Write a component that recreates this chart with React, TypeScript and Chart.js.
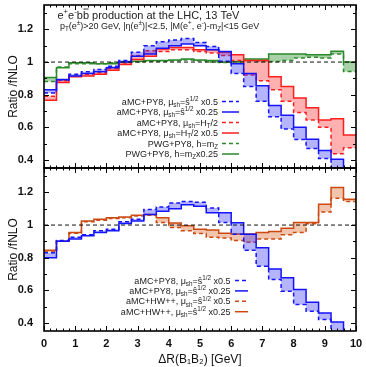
import React, { useEffect, useRef } from "react";
import { Chart, registerables } from "chart.js";
Chart.register(...registerables);

const binEdges = [0, 0.4, 0.8, 1.2, 1.6, 2.0, 2.4, 2.8, 3.2, 3.6, 4.0, 4.4, 4.8, 5.2, 5.6, 6.0, 6.4, 6.8, 7.2, 7.6, 8.0, 8.4, 8.8, 9.2, 9.6, 10.0];
const xTickValues = [0, 1, 2, 3, 4, 5, 6, 7, 8, 9, 10];
const xTickLabels = ["0", "1", "2", "3", "4", "5", "6", "7", "8", "9", "10"];
const yTickValues = [0.4, 0.6, 0.8, 1.0, 1.2];
const yTickLabels = ["0.4", "0.6", "0.8", "1", "1.2"];
const yMin = 0.35;
const yMax = 1.35;
const refValue = 1;

// Top panel
const topBlueDashed = [0.81, 0.89, 0.925, 0.94, 0.955, 0.975, 1.01, 1.06, 1.1, 1.125, 1.135, 1.145, 1.12, 1.095, 1.005, 0.93, 0.85, 0.76, 0.664, 0.59, 0.525, 0.47, 0.408, 0.33, 0.25];
const topBlueSolid = [0.83, 0.893, 0.915, 0.93, 0.94, 0.965, 1.0, 1.035, 1.05, 1.085, 1.1, 1.11, 1.1, 1.075, 1.065, 0.99, 0.93, 0.855, 0.733, 0.674, 0.6, 0.527, 0.457, 0.403, 0.3];
const topRedDashed = [0.79, 0.885, 0.915, 0.925, 0.935, 0.96, 0.995, 1.04, 1.07, 1.065, 1.075, 1.075, 1.065, 1.055, 1.04, 1.01, 0.92, 0.885, 0.83, 0.76, 0.69, 0.645, 0.6, 0.437, 0.475];
const topRedSolid = [0.765, 0.875, 0.91, 0.915, 0.925, 0.95, 0.985, 1.015, 1.035, 1.08, 1.09, 1.09, 1.075, 1.075, 1.06, 1.045, 1.01, 1.01, 0.91, 0.85, 0.78, 0.72, 0.645, 0.652, 0.553];
const topGreenDashed = [0.88, 0.97, 0.99, 0.99, 0.99, 0.995, 0.995, 1.0, 1.005, 1.005, 1.008, 1.012, 1.008, 1.0, 0.998, 1.0, 1.01, 1.004, 1.004, 1.01, 1.025, 1.03, 1.025, 1.05, 0.942];
const topGreenSolid = [0.905, 0.965, 0.995, 0.995, 0.99, 0.99, 1.0, 1.005, 1.01, 1.01, 1.012, 1.018, 1.012, 1.01, 1.0, 1.004, 1.019, 1.018, 1.05, 1.05, 1.05, 1.045, 1.045, 1.066, 1.0];

// Bottom panel
const botBlueDashed = [0.83, 0.905, 0.925, 0.94, 0.965, 0.975, 1.02, 1.035, 1.095, 1.11, 1.135, 1.145, 1.14, 1.105, 1.015, 0.943, 0.845, 0.748, 0.666, 0.594, 0.512, 0.471, 0.42, 0.34, 0.25];
const botBlueSolid = [0.8, 0.9, 0.915, 0.935, 0.955, 0.965, 1.01, 1.025, 1.065, 1.085, 1.1, 1.125, 1.115, 1.075, 1.075, 1.014, 0.943, 0.861, 0.731, 0.676, 0.604, 0.526, 0.46, 0.405, 0.3];
const botOrangeDashed = [0.835, 0.9, 0.95, 1.02, 1.03, 1.04, 1.045, 1.055, 1.06, 1.015, 0.985, 0.965, 0.948, 0.925, 0.92, 0.905, 0.895, 0.915, 0.915, 0.94, 0.955, 1.008, 1.08, 1.165, 1.145];
const botOrangeSolid = [0.845, 0.9, 0.955, 1.025, 1.035, 1.045, 1.05, 1.06, 1.065, 1.045, 1.012, 0.995, 0.975, 0.97, 0.95, 0.945, 0.945, 0.955, 0.96, 0.98, 1.015, 1.015, 1.127, 1.23, 1.158];

const titleLine1 = "e^{+}e^{-}b~{b} production at the LHC, 13 TeV";
const titleLine2 = "p_{T}(e^{±})>20 GeV, |η(e^{±})|<2.5, |M(e^{+}, e^{-})-m_{Z}|<15 GeV";
const topLegendLabels = [
  "aMC+PY8, μ_{sh}=ŝ^{1/2} x0.5",
  "aMC+PY8, μ_{sh}=ŝ^{1/2} x0.25",
  "aMC+PY8, μ_{sh}=H_{T}/2",
  "aMC+PY8, μ_{sh}=H_{T}/2 x0.5",
  "PWG+PY8, h=m_{Z}",
  "PWG+PY8, h=m_{Z}x0.25",
];
const bottomLegendLabels = [
  "aMC+PY8, μ_{sh}=ŝ^{1/2} x0.5",
  "aMC+PY8, μ_{sh}=ŝ^{1/2} x0.25",
  "aMC+HW++, μ_{sh}=ŝ^{1/2} x0.5",
  "aMC+HW++, μ_{sh}=ŝ^{1/2} x0.25",
];
const yAxisTitle = "Ratio /fNLO";
const xAxisTitle = "ΔR(B₁B₂) [GeV]";

const FONT = "'Liberation Sans', Arial, Helvetica, sans-serif";
const BLUE = "#1414ff";
const RED = "#ff1e1e";
const GREEN = "#2a8a2a";
const ORANGE = "#cc4a12";
const BLUE_F = "rgba(40,40,255,0.35)";
const RED_F = "rgba(255,40,40,0.36)";
const GREEN_F = "rgba(40,140,40,0.4)";
const ORANGE_F = "rgba(215,100,40,0.38)";
const DASH = [4, 3];

type Seg = { t: string; m: string };
function parseRich(s: string): Seg[] {
  const out: Seg[] = [];
  let buf = "";
  let i = 0;
  while (i < s.length) {
    const c = s[i];
    if ((c === "_" || c === "^" || c === "~") && s[i + 1] === "{") {
      if (buf) { out.push({ t: buf, m: "n" }); buf = ""; }
      const end = s.indexOf("}", i + 2);
      out.push({ t: s.slice(i + 2, end), m: c === "_" ? "sub" : c === "^" ? "sup" : "bar" });
      i = end + 1;
    } else { buf += c; i++; }
  }
  if (buf) out.push({ t: buf, m: "n" });
  return out;
}
function richWidth(ctx: CanvasRenderingContext2D, s: string, size: number) {
  let w = 0;
  for (const seg of parseRich(s)) {
    const fs = seg.m === "sub" || seg.m === "sup" ? size * 0.7 : size;
    ctx.font = `${fs}px ${FONT}`;
    w += ctx.measureText(seg.t).width;
  }
  return w;
}
function drawRich(ctx: CanvasRenderingContext2D, s: string, x: number, y: number, size: number) {
  let cx = x;
  ctx.textBaseline = "alphabetic";
  ctx.textAlign = "left";
  for (const seg of parseRich(s)) {
    const small = seg.m === "sub" || seg.m === "sup";
    const fs = small ? size * 0.7 : size;
    ctx.font = `${fs}px ${FONT}`;
    const dy = seg.m === "sub" ? size * 0.25 : seg.m === "sup" ? -size * 0.4 : 0;
    ctx.fillText(seg.t, cx, y + dy);
    const w = ctx.measureText(seg.t).width;
    if (seg.m === "bar") {
      ctx.save();
      ctx.strokeStyle = ctx.fillStyle as string;
      ctx.lineWidth = 0.9;
      ctx.beginPath();
      ctx.moveTo(cx + 0.5, y - size * 0.86);
      ctx.lineTo(cx + w - 0.5, y - size * 0.86);
      ctx.stroke();
      ctx.restore();
    }
    cx += w;
  }
}

function stepData(vals: number[]) {
  const pts = vals.map((v, i) => ({ x: binEdges[i], y: v }));
  pts.push({ x: binEdges[vals.length], y: vals[vals.length - 1] });
  return pts;
}
function series(label: string, vals: number[], color: string, dashed: boolean, fillColor?: string) {
  return {
    label,
    data: stepData(vals),
    borderColor: color,
    borderWidth: 1.5,
    borderDash: dashed ? DASH : [],
    stepped: "before",
    pointRadius: 0,
    tension: 0,
    fill: fillColor ? "-1" : false,
    backgroundColor: fillColor || "transparent",
  };
}
function refLine() {
  return {
    label: "ref",
    data: [{ x: binEdges[0], y: refValue }, { x: binEdges[binEdges.length - 1], y: refValue }],
    borderColor: "#111",
    borderWidth: 1,
    borderDash: [4, 3],
    pointRadius: 0,
    fill: false,
  };
}

type LegendItem = { label: string; color: string; dashed: boolean };
type DecorCfg = {
  legend: LegendItem[];
  textRight: number; lineX0: number; lineX1: number; rowY0: number; rowDy: number;
  title: boolean;
};
function makeDecor(cfg: DecorCfg) {
  return {
    id: "decor",
    afterDatasetsDraw(chart: any) {
      const { ctx, chartArea: a, scales } = chart;
      const xs = scales.x, ys = scales.y;
      ctx.save();
      ctx.strokeStyle = "#000";
      ctx.lineWidth = 1;
      ctx.beginPath();
      for (let i = 0; i <= 50; i++) {
        const px = Math.round(xs.getPixelForValue(i * 0.2)) + 0.5;
        const len = i % 5 === 0 ? 5 : 2.5;
        ctx.moveTo(px, a.bottom); ctx.lineTo(px, a.bottom - len);
        ctx.moveTo(px, a.top); ctx.lineTo(px, a.top + len);
      }
      for (let i = 4; i <= 13; i++) {
        const py = Math.round(ys.getPixelForValue(i / 10)) + 0.5;
        const len = i % 2 === 0 ? 5 : 3;
        ctx.moveTo(a.left, py); ctx.lineTo(a.left + len, py);
        ctx.moveTo(a.right, py); ctx.lineTo(a.right - len, py);
      }
      ctx.stroke();
      ctx.lineWidth = 1.6;
      ctx.strokeRect(a.left, a.top, a.right - a.left, a.bottom - a.top);

      cfg.legend.forEach((it, i) => {
        const yc = cfg.rowY0 + i * cfg.rowDy;
        const w = richWidth(ctx, it.label, 9);
        ctx.fillStyle = "#222";
        drawRich(ctx, it.label, cfg.textRight - w, yc + 3, 9);
        ctx.strokeStyle = it.color;
        ctx.lineWidth = 1.5;
        ctx.setLineDash(it.dashed ? DASH : []);
        ctx.beginPath();
        ctx.moveTo(cfg.lineX0, yc);
        ctx.lineTo(cfg.lineX1, yc);
        ctx.stroke();
        ctx.setLineDash([]);
      });
      if (cfg.title) {
        ctx.fillStyle = "#222";
        drawRich(ctx, titleLine1, 57.5, 18.5, 11);
        drawRich(ctx, titleLine2, 60, 28.5, 9);
      }
      ctx.restore();
    },
  };
}

function scalesCfg(showX: boolean) {
  return {
    x: {
      type: "linear", min: 0, max: 10, display: showX,
      grid: { display: false, drawTicks: false }, border: { display: false },
      afterBuildTicks: (s: any) => { s.ticks = xTickValues.map((v) => ({ value: v })); },
      afterFit: (s: any) => { s.height = showX ? 36 : 0; s.paddingLeft = 0; s.paddingRight = 0; s.paddingTop = 0; s.paddingBottom = 0; },
      ticks: {
        padding: 6, maxRotation: 0, autoSkip: false, color: "#111",
        font: { family: FONT, size: 11, weight: "bold" },
        callback: (v: number) => xTickLabels[xTickValues.indexOf(v)],
      },
      title: { display: true, text: xAxisTitle, color: "#111", font: { family: FONT, size: 12 }, padding: { top: 0, bottom: 0 } },
    },
    y: {
      type: "linear", min: yMin, max: yMax,
      grid: { display: false, drawTicks: false }, border: { display: false },
      afterBuildTicks: (s: any) => { s.ticks = yTickValues.map((v) => ({ value: v })); },
      afterFit: (s: any) => { s.width = 44; s.paddingTop = 0; s.paddingBottom = 0; s.paddingLeft = 0; s.paddingRight = 0; },
      ticks: {
        padding: 11, autoSkip: false, color: "#111",
        font: { family: FONT, size: 11, weight: "bold" },
        callback: (v: number) => yTickLabels[yTickValues.indexOf(v)],
      },
      title: { display: true, text: yAxisTitle, color: "#111", font: { family: FONT, size: 12 }, padding: { top: 6, bottom: 0 } },
    },
  };
}

function baseOptions(showX: boolean, padding: any) {
  return {
    responsive: false,
    animation: false,
    events: [],
    layout: { padding },
    plugins: { legend: { display: false }, tooltip: { enabled: false } },
    scales: scalesCfg(showX),
  };
}

export default function App() {
  const topRef = useRef<HTMLCanvasElement>(null);
  const botRef = useRef<HTMLCanvasElement>(null);

  useEffect(() => {
    const topChart = new Chart(topRef.current as HTMLCanvasElement, {
      type: "line",
      data: {
        datasets: [
          refLine(),
          series(topLegendLabels[0], topBlueDashed, BLUE, true),
          series(topLegendLabels[1], topBlueSolid, BLUE, false, BLUE_F),
          series(topLegendLabels[2], topRedDashed, RED, true),
          series(topLegendLabels[3], topRedSolid, RED, false, RED_F),
          series(topLegendLabels[4], topGreenDashed, GREEN, true),
          series(topLegendLabels[5], topGreenSolid, GREEN, false, GREEN_F),
        ] as any,
      },
      options: baseOptions(false, { top: 5, bottom: 4, left: 0, right: 10 }) as any,
      plugins: [
        makeDecor({
          legend: [
            { label: topLegendLabels[0], color: BLUE, dashed: true },
            { label: topLegendLabels[1], color: BLUE, dashed: false },
            { label: topLegendLabels[2], color: RED, dashed: true },
            { label: topLegendLabels[3], color: RED, dashed: false },
            { label: topLegendLabels[4], color: GREEN, dashed: true },
            { label: topLegendLabels[5], color: GREEN, dashed: false },
          ],
          textRight: 218, lineX0: 222, lineX1: 239, rowY0: 101.5, rowDy: 10.5, title: true,
        }),
      ],
    });
    const botChart = new Chart(botRef.current as HTMLCanvasElement, {
      type: "line",
      data: {
        datasets: [
          refLine(),
          series(bottomLegendLabels[0], botBlueDashed, BLUE, true),
          series(bottomLegendLabels[1], botBlueSolid, BLUE, false, BLUE_F),
          series(bottomLegendLabels[2], botOrangeDashed, ORANGE, true),
          series(bottomLegendLabels[3], botOrangeSolid, ORANGE, false, ORANGE_F),
        ] as any,
      },
      options: baseOptions(true, { top: 8, bottom: 0, left: 0, right: 10 }) as any,
      plugins: [
        makeDecor({
          legend: [
            { label: bottomLegendLabels[0], color: BLUE, dashed: true },
            { label: bottomLegendLabels[1], color: BLUE, dashed: false },
            { label: bottomLegendLabels[2], color: ORANGE, dashed: true },
            { label: bottomLegendLabels[3], color: ORANGE, dashed: false },
          ],
          textRight: 230.5, lineX0: 235, lineX1: 248, rowY0: 120.5, rowDy: 10.4, title: false,
        }),
      ],
    });
    return () => { topChart.destroy(); botChart.destroy(); };
  }, []);

  return (
    <div style={{ position: "absolute", left: 0, top: 0, width: 366, height: 367, background: "#fff", overflow: "hidden" }}>
      <canvas ref={topRef} width={366} height={172} style={{ position: "absolute", left: 0, top: 0 }} />
      <canvas ref={botRef} width={366} height={207} style={{ position: "absolute", left: 0, top: 160 }} />
    </div>
  );
}
